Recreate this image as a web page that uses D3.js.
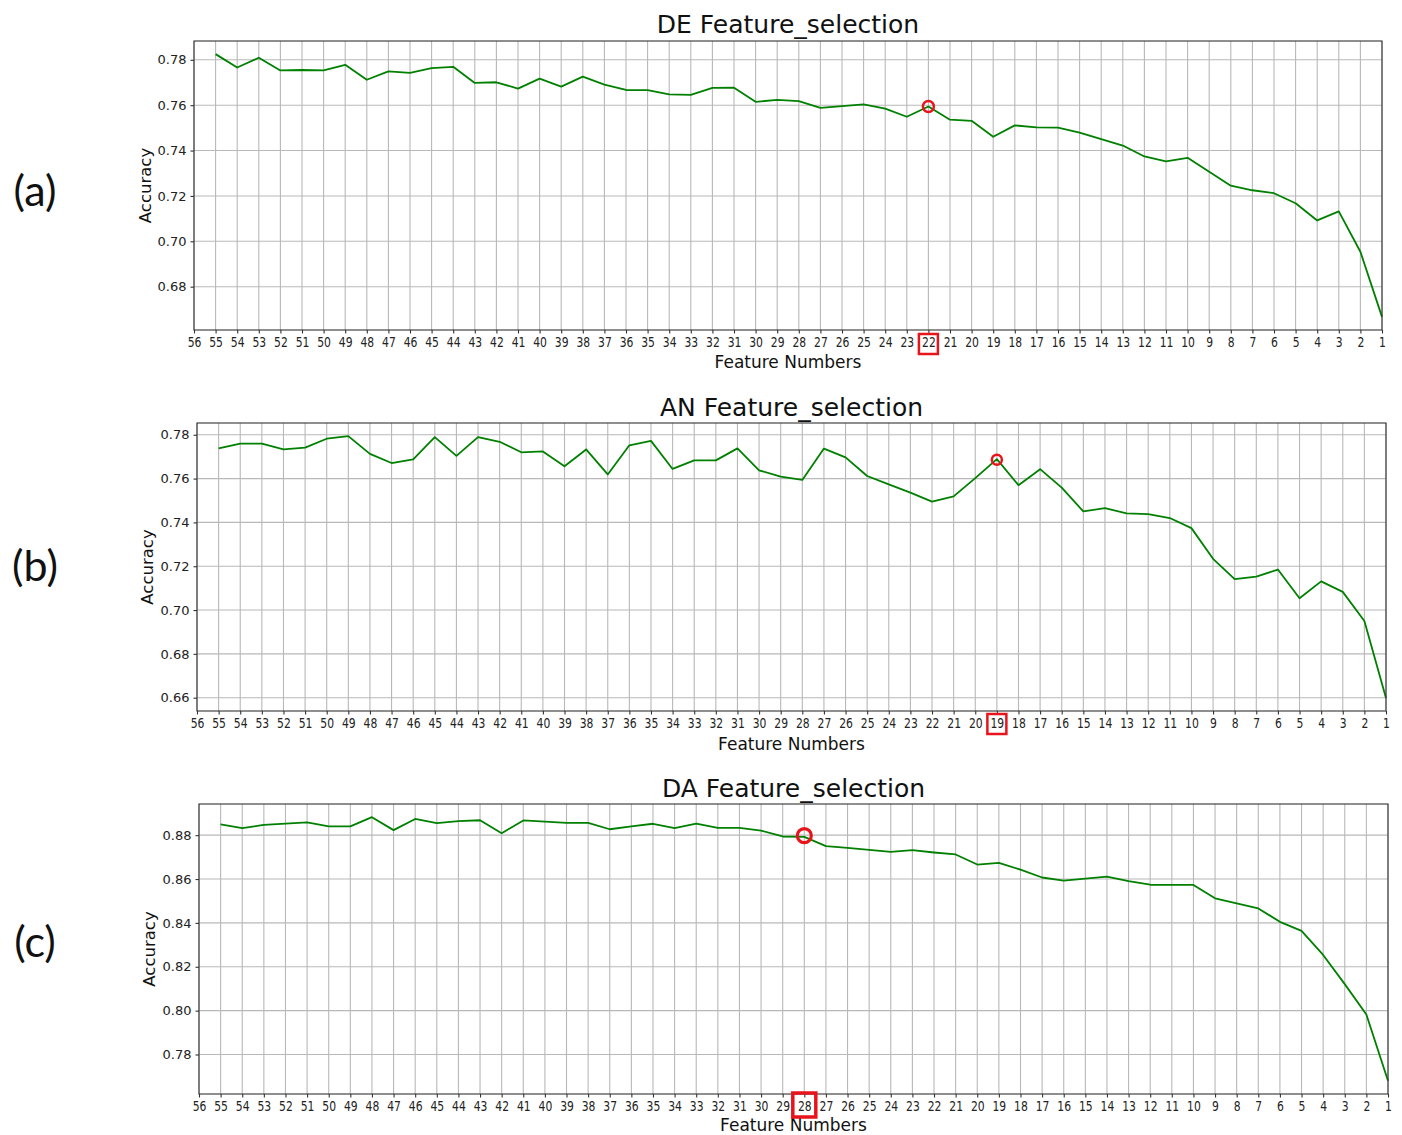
<!DOCTYPE html>
<html>
<head>
<meta charset="utf-8">
<script src="https://cdn.jsdelivr.net/npm/d3@7"></script>
<style>
  html, body { margin: 0; padding: 0; background: #fff; }
  svg { display: block; }
  .tick text { font-family: "DejaVu Sans", sans-serif; fill: #222; }
</style>
</head>
<body>
<svg id="chart" width="1402" height="1135"></svg>
<script>
// ---------------- DATA ----------------
const features = [55,54,53,52,51,50,49,48,47,46,45,44,43,42,41,40,39,38,37,36,35,34,33,32,31,30,
                  29,28,27,26,25,24,23,22,21,20,19,18,17,16,15,14,13,12,11,10,9,8,7,6,5,4,3,2,1];
const xTickLabels = [56,55,54,53,52,51,50,49,48,47,46,45,44,43,42,41,40,39,38,37,36,35,34,33,32,31,30,
                     29,28,27,26,25,24,23,22,21,20,19,18,17,16,15,14,13,12,11,10,9,8,7,6,5,4,3,2,1];

const deAccuracy = [0.7825,0.7766,0.7809,0.7753,0.7755,0.7753,0.7778,0.7712,0.7749,0.7742,0.7763,0.7769,0.7698,
  0.7701,0.7673,0.7717,0.7682,0.7726,0.7691,0.7667,0.7666,0.7648,0.7645,0.7676,0.7677,0.7615,
  0.7623,0.7618,0.7588,0.7596,0.7604,0.7585,0.7549,0.7594,0.7536,0.7531,0.7461,0.7511,0.7502,0.7501,
  0.7479,0.7450,0.7422,0.7374,0.7352,0.7368,0.7307,0.7245,0.7225,0.7212,0.7168,0.7092,0.7132,0.6954,0.6667];

const anAccuracy = [0.7738,0.7760,0.7760,0.7733,0.7741,0.7782,0.7794,0.7713,0.7671,0.7688,0.7789,0.7704,0.7789,
  0.7768,0.7720,0.7724,0.7656,0.7733,0.7619,0.7752,0.7772,0.7644,0.7683,0.7683,0.7738,0.7638,
  0.7609,0.7594,0.7737,0.7697,0.7612,0.7574,0.7536,0.7495,0.7519,0.7602,0.7689,0.7570,0.7643,0.7559,
  0.7450,0.7465,0.7441,0.7438,0.7420,0.7374,0.7234,0.7141,0.7153,0.7185,0.7054,0.7131,0.7083,0.6950,0.6599];

const daAccuracy = [0.8849,0.8832,0.8847,0.8853,0.8858,0.8840,0.8840,0.8882,0.8823,0.8874,0.8855,0.8864,0.8868,
  0.8809,0.8867,0.8862,0.8856,0.8856,0.8827,0.8840,0.8852,0.8832,0.8853,0.8833,0.8833,0.8821,
  0.8794,0.8792,0.8750,0.8742,0.8733,0.8724,0.8732,0.8721,0.8712,0.8666,0.8674,0.8643,0.8607,0.8593,
  0.8602,0.8611,0.8590,0.8574,0.8573,0.8573,0.8512,0.8489,0.8466,0.8405,0.8364,0.8254,0.8121,0.7982,0.7680];

const deYTicks = [0.68,0.70,0.72,0.74,0.76,0.78];
const anYTicks = [0.66,0.68,0.70,0.72,0.74,0.76,0.78];
const daYTicks = [0.78,0.80,0.82,0.84,0.86,0.88];

const titles = ["DE Feature_selection", "AN Feature_selection", "DA Feature_selection"];
const panelLetters = ["(a)", "(b)", "(c)"];
const bestFeature = [22, 19, 28];
const bestAccuracy = [0.7594, 0.7686, 0.8798];

// ---------------- LAYOUT ----------------
const layouts = [
  {left:194, right:1382, top:41,  bottom:330,  titleY:33,  xlabY:368,  ylabX:145,   letterY:206, circleR:5.5, circleW:2.5, boxW:19, boxH:20, boxSW:2.5, boxDy:14},
  {left:197, right:1386, top:423, bottom:711,  titleY:416, xlabY:750,  ylabX:147.5, letterY:581, circleR:5,   circleW:2.5, boxW:19, boxH:20, boxSW:2.5, boxDy:13},
  {left:199, right:1388, top:804, bottom:1094, titleY:797, xlabY:1131, ylabX:149,   letterY:957, circleR:7,   circleW:3.2, boxW:23, boxH:24, boxSW:3.5, boxDy:11}
];
const series = [deAccuracy, anAccuracy, daAccuracy];
const yTicksAll = [deYTicks, anYTicks, daYTicks];

const svg = d3.select("#chart");

function drawPanel(i) {
  const L = layouts[i];
  const vals = series[i];
  const data = features.map((f, k) => ({f, v: vals[k]}));

  const x = d3.scaleLinear().domain([d3.max(xTickLabels), d3.min(xTickLabels)]).range([L.left, L.right]);
  const [mn, mx] = d3.extent(vals);
  const pad = (mx - mn) * 0.05;
  const y = d3.scaleLinear().domain([mn - pad, mx + pad]).range([L.bottom, L.top]);

  const g = svg.append("g");

  // grid
  g.append("g").selectAll("line").data(xTickLabels).join("line")
    .attr("x1", d => x(d)).attr("x2", d => x(d))
    .attr("y1", L.top).attr("y2", L.bottom)
    .attr("stroke", "#b8b8b8").attr("stroke-width", 1.1);
  g.append("g").selectAll("line").data(yTicksAll[i]).join("line")
    .attr("x1", L.left).attr("x2", L.right)
    .attr("y1", d => y(d)).attr("y2", d => y(d))
    .attr("stroke", "#b8b8b8").attr("stroke-width", 1.1);

  // line
  const line = d3.line().x(d => x(d.f)).y(d => y(d.v));
  g.append("path").datum(data)
    .attr("d", line).attr("fill", "none")
    .attr("stroke", "#008000").attr("stroke-width", 1.8)
    .attr("stroke-linejoin", "round");

  // frame
  g.append("rect")
    .attr("x", L.left).attr("y", L.top)
    .attr("width", L.right - L.left).attr("height", L.bottom - L.top)
    .attr("fill", "none").attr("stroke", "#333").attr("stroke-width", 1.1);

  // axes
  const xAxis = d3.axisBottom(x).tickValues(xTickLabels).tickFormat(d3.format("d"))
    .tickSizeInner(3.5).tickSizeOuter(0).tickPadding(4);
  const gx = g.append("g").attr("transform", `translate(0,${L.bottom})`).call(xAxis);
  gx.select(".domain").remove();
  gx.selectAll(".tick line").attr("stroke", "#333").attr("stroke-width", 1.1);
  gx.selectAll(".tick text").attr("font-size", 13.5)
    .attr("transform", "scale(0.8,1)");

  const yAxis = d3.axisLeft(y).tickValues(yTicksAll[i]).tickFormat(d3.format(".2f"))
    .tickSizeInner(3.5).tickSizeOuter(0).tickPadding(4);
  const gy = g.append("g").attr("transform", `translate(${L.left},0)`).call(yAxis);
  gy.select(".domain").remove();
  gy.selectAll(".tick line").attr("stroke", "#333").attr("stroke-width", 1.1);
  gy.selectAll(".tick text").attr("font-size", 13);

  // title
  const cx = (L.left + L.right) / 2;
  g.append("text").attr("x", cx).attr("y", L.titleY)
    .attr("text-anchor", "middle")
    .attr("font-family", "DejaVu Sans, sans-serif").attr("font-size", 25)
    .attr("fill", "#111").text(titles[i]);

  // x label
  g.append("text").attr("x", cx).attr("y", L.xlabY)
    .attr("text-anchor", "middle")
    .attr("font-family", "DejaVu Sans, sans-serif").attr("font-size", 17)
    .attr("fill", "#111").text("Feature Numbers");

  // y label
  const cy = (L.top + L.bottom) / 2;
  g.append("text")
    .attr("transform", `translate(${L.ylabX},${cy}) rotate(-90)`)
    .attr("text-anchor", "middle").attr("dominant-baseline", "central")
    .attr("font-family", "DejaVu Sans, sans-serif").attr("font-size", 16.5)
    .attr("fill", "#111").text("Accuracy");

  // panel letter
  g.append("text").attr("x", 35).attr("y", L.letterY)
    .attr("text-anchor", "middle")
    .attr("font-family", "Lato, 'Open Sans', sans-serif").attr("font-size", 43)
    .attr("fill", "#111").text(panelLetters[i]);

  // best-point highlight
  g.append("circle")
    .attr("cx", x(bestFeature[i])).attr("cy", y(bestAccuracy[i]))
    .attr("r", L.circleR).attr("fill", "none")
    .attr("stroke", "#e8141c").attr("stroke-width", L.circleW);

  // box around tick label
  const bx = x(bestFeature[i]);
  const by = L.bottom + L.boxDy;
  g.append("rect")
    .attr("x", bx - L.boxW / 2).attr("y", by - L.boxH / 2)
    .attr("width", L.boxW).attr("height", L.boxH)
    .attr("fill", "none").attr("stroke", "#e8141c").attr("stroke-width", L.boxSW);
}

[0, 1, 2].forEach(drawPanel);
</script>
</body>
</html>
